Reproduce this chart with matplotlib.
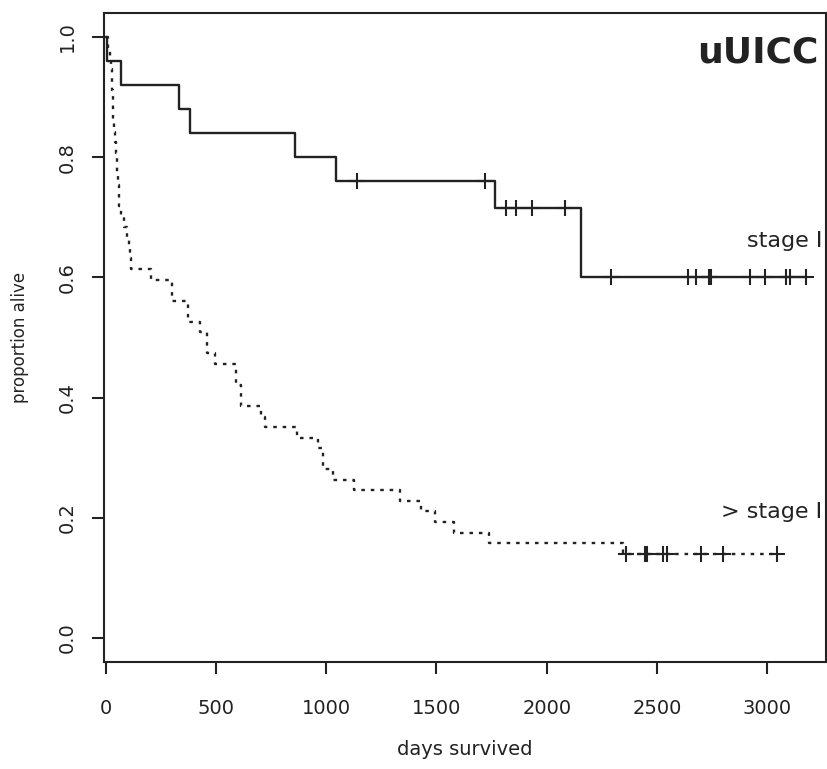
import numpy as np
import matplotlib.pyplot as plt

# stage I: step times (days) and survival after each step
st1_times = [0, 7, 69, 335, 382, 859, 1045, 1767, 2154]
st1_surv = [1.0, 0.96, 0.92, 0.88, 0.84, 0.80, 0.76, 0.715, 0.60]
st1_cens = [1139, 1720, 1815, 1861, 1932, 2081, 2291, 2639, 2675, 2737, 2745,
            2921, 2990, 3085, 3103, 3175]

# > stage I: n = 57, number still alive after each step
n2 = 57
st2_times = [0, 10, 18, 24, 28, 30, 32, 33, 34, 38, 43, 47, 51, 54, 57, 59, 61,
             72, 85, 98, 108, 113, 117, 206, 300, 372, 428, 462, 496, 590, 615,
             705, 725, 870, 965, 985, 1031, 1127, 1335, 1430, 1494, 1580, 1739,
             2345]
st2_alive = [57, 56, 55, 54, 53, 52, 51, 50, 49, 48, 47, 46, 45, 44, 43, 42, 41,
             40, 39, 38, 37, 36, 35, 34, 32, 30, 29, 27, 26, 24, 22,
             21, 20, 19, 18, 16, 15, 14, 13, 12, 11, 10, 9,
             8]
st2_cens = [2360, 2445, 2455, 2529, 2547, 2700, 2801, 3043]


def km_line(times, surv, cens):
    t = np.array(times + [max(cens)], dtype=float)
    s = np.array(surv + [surv[-1]], dtype=float)
    idx = np.searchsorted(np.array(times), np.array(cens), side='right') - 1
    return t, s, np.array(cens), np.array(surv)[idx]


fig = plt.figure(figsize=(8.27, 7.69), dpi=100)
ax = fig.add_axes([104 / 827, 107 / 769, 722 / 827, 649 / 769])

t1, s1, c1, cs1 = km_line(st1_times, st1_surv, st1_cens)
ax.step(t1, s1, where='post', color='#222222', lw=1.7)
ax.plot(c1, cs1, '+', color='#222222', ms=11, mew=1.5)

surv2 = [a / n2 for a in st2_alive]
t2, s2, c2, cs2 = km_line(st2_times, surv2, st2_cens)
ax.step(t2, s2, where='post', color='#222222', lw=1.7, linestyle=(0, (1.5, 2.5)))
ax.plot(c2, cs2, '+', color='#222222', ms=11, mew=1.5)

ax.set_xlim(-7, 3266)
ax.set_ylim(-0.04, 1.04)
ax.set_xticks([0, 500, 1000, 1500, 2000, 2500, 3000])
ax.set_yticks([0.0, 0.2, 0.4, 0.6, 0.8, 1.0])
ax.set_yticklabels(['0.0', '0.2', '0.4', '0.6', '0.8', '1.0'], rotation=90, va='center')
ax.tick_params(direction='out', length=8.5, width=1.5, labelsize=14, colors='#222222')
ax.tick_params(axis='x', pad=18)
ax.tick_params(axis='y', pad=11)
for sp in ax.spines.values():
    sp.set_linewidth(1.5)
    sp.set_color('#222222')

ax.set_xlabel('days survived', fontsize=14, color='#222222', labelpad=16)
ax.set_ylabel('proportion alive', fontsize=12, color='#222222', labelpad=21)

ax.text(3230, 0.958, 'uUICC', fontsize=26, fontweight='bold', ha='right', va='baseline', color='#222222')
ax.text(3248, 0.651, 'stage I', fontsize=16, ha='right', va='baseline', color='#222222')
ax.text(3248, 0.200, '> stage I', fontsize=16, ha='right', va='baseline', color='#222222')

fig.savefig('out.png', dpi=100)
